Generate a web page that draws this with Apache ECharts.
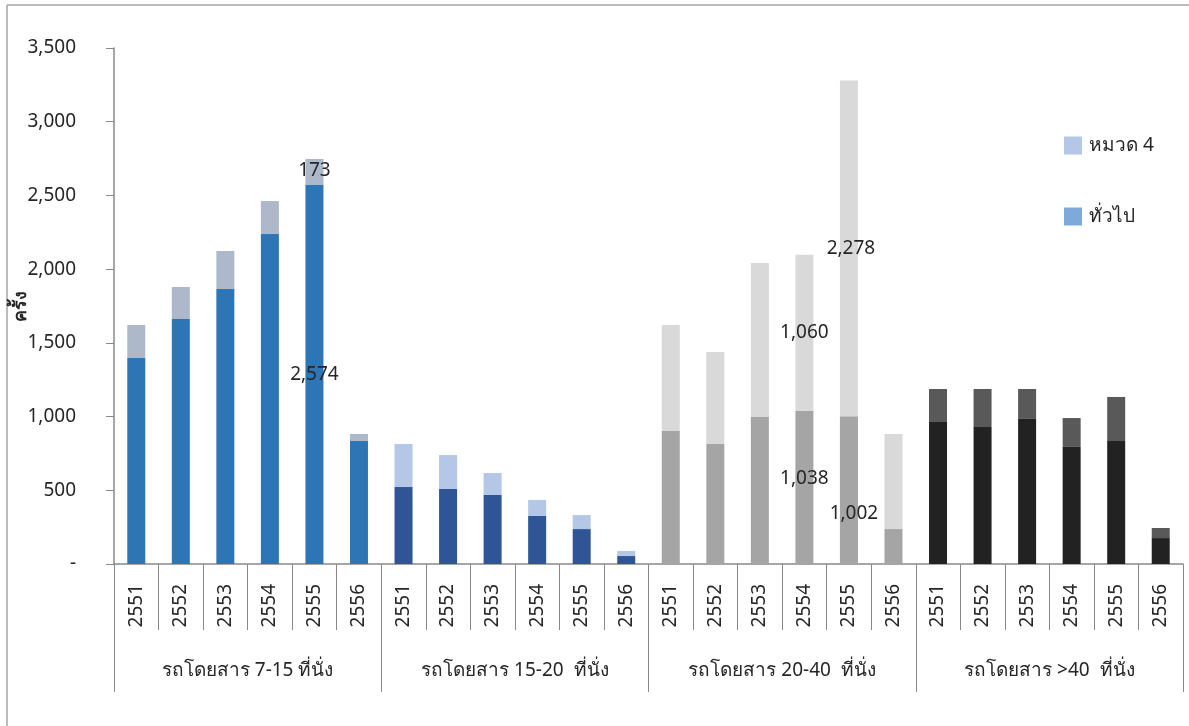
<!DOCTYPE html>
<html>
<head>
<meta charset="utf-8">
<script src="https://cdn.jsdelivr.net/npm/echarts@6/dist/echarts.min.js"></script>
<style>
  html, body { margin: 0; padding: 0; background: #fff; }
  #chart { width: 1189px; height: 726px; }
</style>
</head>
<body>
<div id="chart"></div>
<script>
// ปี (แกนล่างชั้นใน) และกลุ่มรถ (แกนล่างชั้นนอก)
const years = ['2551', '2552', '2553', '2554', '2555', '2556'];
const groups = ['รถโดยสาร 7-15 ที่นั่ง', 'รถโดยสาร 15-20  ที่นั่ง', 'รถโดยสาร 20-40  ที่นั่ง', 'รถโดยสาร >40  ที่นั่ง'];

// ทั่วไป (ล่าง) / หมวด 4 (บน) เรียงตามกลุ่ม x ปี
const general = [1397, 1662, 1865, 2238, 2574, 834,
                 522, 509, 468, 326, 237, 54,
                 902, 814, 997, 1038, 1002, 237,
                 963, 929, 984, 794, 834, 176];
const cat4 = [224, 217, 258, 224, 173, 48,
              292, 230, 149, 108, 95, 34,
              719, 624, 1045, 1060, 2278, 645,
              224, 258, 203, 196, 299, 68];

// จุดที่มีป้ายตัวเลข
const labeledIdx = [4, 15, 16];

const yMin = 0, yMax = 3500, yStep = 500;

// สีตามกลุ่ม
const bottomColors = ['#2e75b6', '#2f5597', '#a5a5a5', '#222222'];
const topColors = ['#adb9ca', '#b4c7e7', '#d9d9d9', '#595959'];

const FONT = "'Noto Sans', 'DejaVu Sans', sans-serif";
const TXT = '#262626';
const AXIS = '#898989';

const cats = [];
groups.forEach(() => years.forEach(y => cats.push(y)));

const fmt = v => Number(v).toLocaleString('en-US');

function build(values, colors, offsets) {
    return values.map((v, i) => {
        const g = Math.floor(i / years.length);
        const item = { value: v, itemStyle: { color: colors[g] } };
        if (labeledIdx.includes(i)) {
            item.label = { show: true, offset: offsets[i] || [0, 0] };
        }
        return item;
    });
}

const myChart = echarts.init(document.getElementById('chart'));

const option = {
    backgroundColor: '#fff',
    textStyle: { fontFamily: FONT },
    animation: false,
    grid: { left: 114, right: 6, top: 48, bottom: 162, containLabel: false, outerBoundsMode: 'none' },
    legend: {
        orient: 'vertical',
        left: 1059,
        top: 131,
        icon: 'rect',
        itemWidth: 18,
        itemHeight: 18,
        itemGap: 52,
        data: ['หมวด 4', 'ทั่วไป'],
        textStyle: { fontSize: 19, color: TXT, fontFamily: FONT, padding: [0, 0, 0, 2] }
    },
    graphic: [
        { type: 'line', shape: { x1: 7, y1: 5, x2: 7, y2: 726 }, style: { stroke: '#a6a6a6', lineWidth: 1.5 } },
        { type: 'line', shape: { x1: 7, y1: 5, x2: 1189, y2: 5 }, style: { stroke: '#a6a6a6', lineWidth: 1.5 } }
    ],
    xAxis: [
        {
            type: 'category',
            data: cats,
            axisLine: { lineStyle: { color: AXIS, width: 1.5 } },
            axisTick: { show: true, interval: 0, length: 66, lineStyle: { color: AXIS } },
            axisLabel: { interval: 0, rotate: 90, margin: 20, fontSize: 19, color: TXT, fontFamily: FONT }
        },
        {
            type: 'category',
            data: groups,
            position: 'bottom',
            axisLine: { show: false },
            axisTick: { show: true, interval: 0, length: 128, lineStyle: { color: AXIS } },
            axisLabel: { interval: 0, margin: 97, fontSize: 19, color: TXT, fontFamily: FONT }
        }
    ],
    yAxis: {
        type: 'value',
        min: yMin,
        max: yMax,
        interval: yStep,
        name: 'ครั้ง',
        nameLocation: 'middle',
        nameGap: 84,
        nameRotate: 90,
        nameMoveOverlap: false,
        nameTextStyle: { fontSize: 18, fontWeight: 'bold', color: TXT, fontFamily: FONT },
        splitLine: { show: false },
        axisLine: { show: true, lineStyle: { color: AXIS, width: 1.5 } },
        axisTick: { show: true, length: 8, lineStyle: { color: AXIS } },
        axisLabel: {
            margin: 38,
            fontSize: 19,
            color: TXT,
            fontFamily: FONT,
            formatter: v => v === 0 ? '-' : fmt(v)
        }
    },
    series: [
        {
            name: 'ทั่วไป',
            type: 'bar',
            stack: 'total',
            barWidth: 18,
            color: '#7fa9da',
            label: { show: false, position: 'inside', fontSize: 19, color: TXT, fontFamily: FONT, formatter: p => fmt(p.value) },
            data: build(general, bottomColors, { 15: [0, -9], 16: [5, 23] })
        },
        {
            name: 'หมวด 4',
            type: 'bar',
            stack: 'total',
            barWidth: 18,
            color: '#b4c7e7',
            label: { show: false, position: 'inside', fontSize: 19, color: TXT, fontFamily: FONT, formatter: p => fmt(p.value) },
            data: build(cat4, topColors, { 4: [0, -1], 16: [2, 0] })
        }
    ]
};

option && myChart.setOption(option);
</script>
</body>
</html>
